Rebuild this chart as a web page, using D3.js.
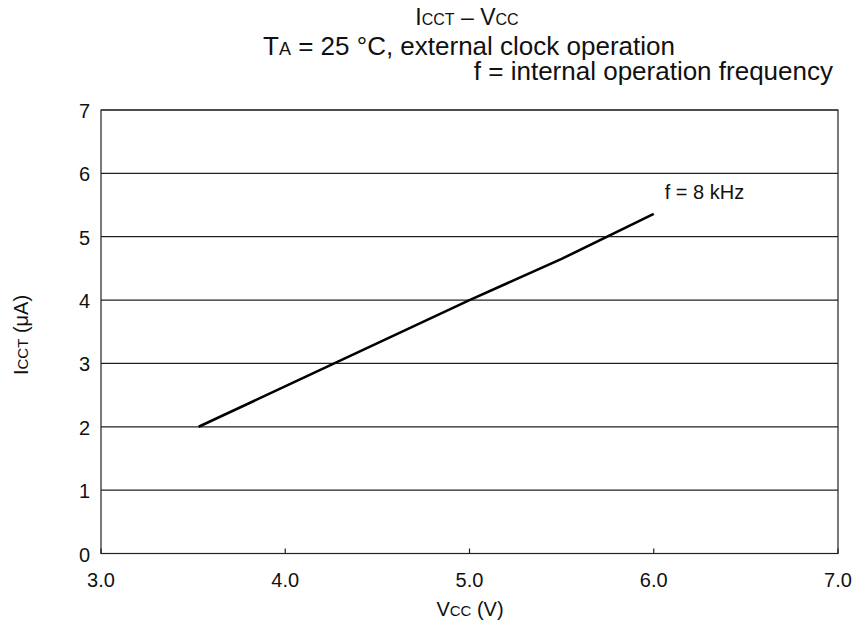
<!DOCTYPE html>
<html><head><meta charset="utf-8">
<script src="https://cdn.jsdelivr.net/npm/d3@7"></script>
<style>body{margin:0;background:#fff}svg{display:block}text{font-family:"Liberation Sans",Arial,sans-serif;fill:#111}</style>
</head><body>
<svg id="c" width="855" height="622"></svg>
<script>
const xTicks = [3.0, 4.0, 5.0, 6.0, 7.0];
const yTicks = [0, 1, 2, 3, 4, 5, 6, 7];
const vcc = [3.53, 5.0, 5.5, 6.0];
const icct = [2.0, 4.0, 4.65, 5.36];
const seriesLabel = "f = 8 kHz";

const svg = d3.select("#c");
const L = 101, R = 838, T = 110, B = 553.5;
const x = d3.scaleLinear().domain([3, 7]).range([L, R]);
const y = d3.scaleLinear().domain([0, 7]).range([B, T]);

// gridlines
svg.append("g").selectAll("line").data(yTicks).join("line")
  .attr("x1", L).attr("x2", R).attr("y1", d => y(d)).attr("y2", d => y(d))
  .attr("stroke", "#222").attr("stroke-width", 1.2);
// frame
svg.append("rect").attr("x", L).attr("y", T).attr("width", R - L).attr("height", B - T)
  .attr("fill", "none").attr("stroke", "#222").attr("stroke-width", 1.2);
// x ticks (inner)
svg.append("g").selectAll("line").data(xTicks).join("line")
  .attr("x1", d => x(d)).attr("x2", d => x(d)).attr("y1", B).attr("y2", B - 5)
  .attr("stroke", "#222").attr("stroke-width", 1.2);

// tick labels
svg.append("g").selectAll("text").data(xTicks).join("text")
  .attr("x", d => x(d)).attr("y", B + 33).attr("text-anchor", "middle")
  .attr("font-size", 20).text(d => d3.format(".1f")(d));
svg.append("g").selectAll("text").data(yTicks).join("text")
  .attr("x", 90).attr("y", d => y(d) + 8).attr("text-anchor", "end")
  .attr("font-size", 20).text(d => d);

// data line
const line = d3.line().x(d => x(d[0])).y(d => y(d[1]));
svg.append("path").datum(vcc.map((v, i) => [v, icct[i]]))
  .attr("d", line).attr("fill", "none").attr("stroke", "#000").attr("stroke-width", 2.6);
svg.append("text").attr("x", x(6.0) + 11).attr("y", y(5.36) - 15)
  .attr("font-size", 20).text(seriesLabel);

// axis titles
const xt = svg.append("text").attr("x", 470).attr("y", 616).attr("text-anchor", "middle").attr("font-size", 20);
xt.append("tspan").text("V");
xt.append("tspan").attr("font-size", 15).text("CC");
xt.append("tspan").text(" (V)");

const yt = svg.append("text").attr("transform", "translate(28,335) rotate(-90)").attr("text-anchor", "middle").attr("font-size", 20);
yt.append("tspan").text("I");
yt.append("tspan").attr("font-size", 15).text("CCT");
yt.append("tspan").text(" (μA)");

// titles
const t1 = svg.append("text").attr("x", 467).attr("y", 25).attr("text-anchor", "middle").attr("font-size", 23);
t1.append("tspan").text("I");
t1.append("tspan").attr("font-size", 16).text("CCT");
t1.append("tspan").text(" – V");
t1.append("tspan").attr("font-size", 16).text("CC");

const t2 = svg.append("text").attr("x", 469).attr("y", 55).attr("text-anchor", "middle").attr("font-size", 26);
t2.append("tspan").text("T");
t2.append("tspan").attr("font-size", 18).text("A");
t2.append("tspan").text(" = 25 °C, external clock operation");

svg.append("text").attr("x", 833).attr("y", 80).attr("text-anchor", "end").attr("font-size", 26)
  .text("f = internal operation frequency");
</script>
</body></html>
